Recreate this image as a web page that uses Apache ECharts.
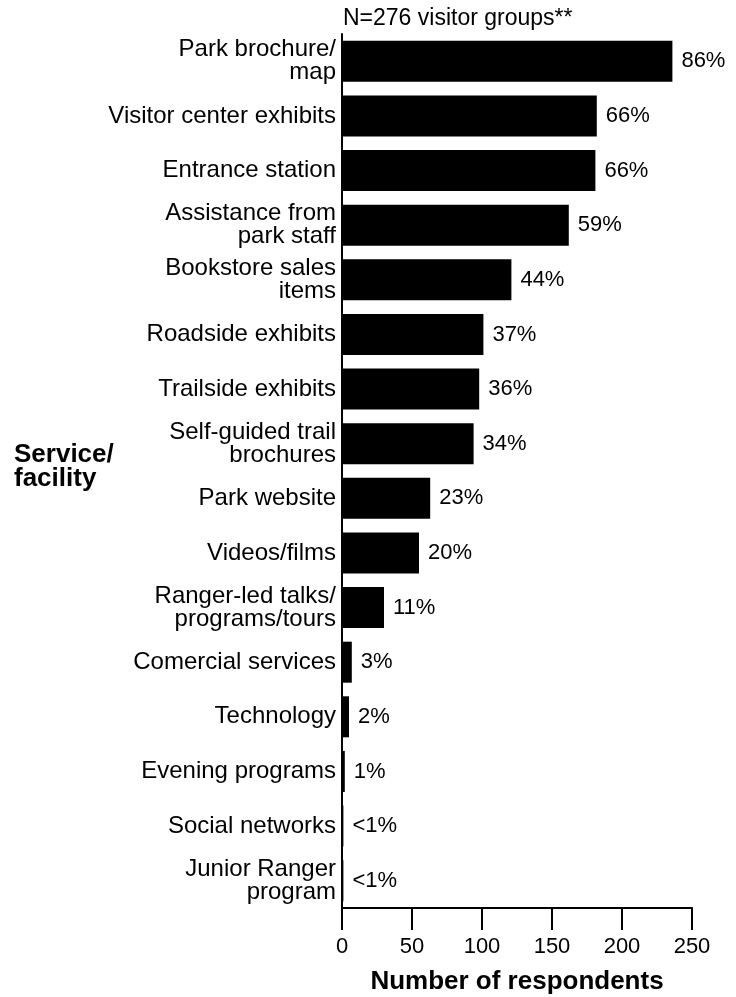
<!DOCTYPE html>
<html>
<head>
<meta charset="utf-8">
<script src="https://cdn.jsdelivr.net/npm/echarts@6/dist/echarts.min.js"></script>
<style>
  html, body { margin: 0; padding: 0; background: #fff; }
  #chart { width: 736px; height: 997px; }
</style>
</head>
<body>
<div id="chart"></div>
<script>
// Services and facilities used, top to bottom
const categories = [
  'Park brochure/\nmap',
  'Visitor center exhibits',
  'Entrance station',
  'Assistance from\npark staff',
  'Bookstore sales\nitems',
  'Roadside exhibits',
  'Trailside exhibits',
  'Self-guided trail\nbrochures',
  'Park website',
  'Videos/films',
  'Ranger-led talks/\nprograms/tours',
  'Comercial services',
  'Technology',
  'Evening programs',
  'Social networks',
  'Junior Ranger\nprogram'
];
// Number of respondents (N = 276 visitor groups)
const respondents = [236, 182, 181, 162, 121, 101, 98, 94, 63, 55, 30, 7, 5, 2, 1, 1];
// Share of visitor groups, shown beside each bar
const percentLabels = ['86%', '66%', '66%', '59%', '44%', '37%', '36%', '34%', '23%', '20%', '11%', '3%', '2%', '1%', '<1%', '<1%'];
const xTicks = [0, 50, 100, 150, 200, 250];

const FONT = '"Liberation Sans", Arial, Helvetica, sans-serif';

const chart = echarts.init(document.getElementById('chart'), null, { renderer: 'canvas' });

chart.setOption({
  animation: false,
  backgroundColor: '#ffffff',
  textStyle: { fontFamily: FONT, color: '#000' },
  grid: {
    left: 342, right: 44, top: 34, bottom: 89,
    containLabel: false,
    outerBoundsMode: 'none'
  },
  xAxis: {
    type: 'value',
    min: xTicks[0],
    max: xTicks[xTicks.length - 1],
    interval: 50,
    name: 'Number of respondents',
    nameLocation: 'middle',
    nameGap: 61,
    nameTextStyle: { fontFamily: FONT, fontSize: 26, fontWeight: 'bold', color: '#000' },
    axisLine: { show: true, lineStyle: { color: '#000', width: 2 } },
    axisTick: { show: true, length: 22, lineStyle: { color: '#000', width: 2 } },
    axisLabel: { fontFamily: FONT, fontSize: 22, color: '#000', margin: 28 },
    splitLine: { show: false }
  },
  yAxis: {
    type: 'category',
    inverse: true,
    data: categories,
    axisLine: { show: true, lineStyle: { color: '#000', width: 2 } },
    axisTick: { show: false },
    axisLabel: {
      fontFamily: FONT, fontSize: 24, color: '#000', margin: 6,
      lineHeight: 23, align: 'right'
    },
    splitLine: { show: false }
  },
  graphic: [
    {
      type: 'text', left: 343, top: 7,
      style: { text: 'N=276 visitor groups**', font: '23px ' + FONT, fill: '#000' }
    },
    {
      type: 'text', left: 14, top: 442,
      style: { text: 'Service/\nfacility', font: 'bold 26px ' + FONT, fill: '#000', lineHeight: 24 }
    }
  ],
  series: [{
    type: 'bar',
    data: respondents,
    barWidth: 41,
    itemStyle: { color: '#000' },
    label: {
      show: true,
      position: 'right',
      distance: 9,
      fontFamily: FONT,
      fontSize: 22,
      color: '#000',
      formatter: p => percentLabels[p.dataIndex]
    }
  }]
});
</script>
</body>
</html>
